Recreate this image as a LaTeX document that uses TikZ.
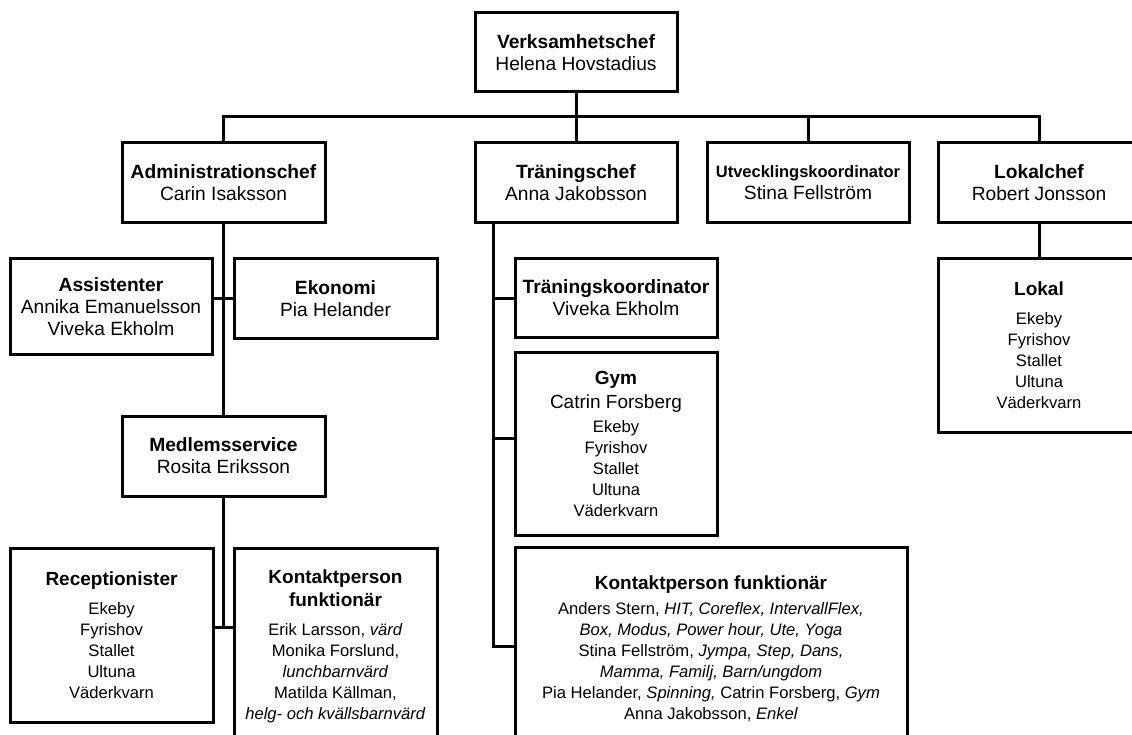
\documentclass[tikz,border=0pt]{standalone}
\usepackage{fontspec}
\setmainfont{Liberation Sans}
\newcommand\ttlb[1]{{\fontsize{19}{22}\selectfont\bfseries #1}}
\newcommand\nmb[1]{{\fontsize{19}{22}\selectfont #1}}
\tikzset{
  box/.style={draw=black, line width=3pt, align=center, inner sep=2pt,
    font=\fontsize{19.2}{22}\selectfont},
  lst/.style={box, font=\fontsize{16.6}{21}\selectfont},
  link/.style={draw=black, line width=3pt},
}
\begin{document}
\begin{tikzpicture}[x=1pt,y=-1pt]
\useasboundingbox (0,0) rectangle (1132,735);
\clip (0,0) rectangle (1132,735);
% level 0
\node[box, minimum width=202pt, minimum height=79pt] (vc) at (576,52.5)
  {\textbf{Verksamhetschef}\\Helena Hovstadius};
% level 1
\node[box, minimum width=203pt, minimum height=80pt] (admin) at (223.5,183)
  {\textbf{Administrationschef}\\Carin Isaksson};
\node[box, minimum width=202pt, minimum height=80pt] (tran) at (576,183)
  {\textbf{Träningschef}\\Anna Jakobsson};
\node[box, minimum width=202pt, minimum height=80pt] (utv) at (808,183)
  {{\fontsize{16.5}{22}\selectfont\bfseries Utvecklingskoordinator}\\Stina Fellström};
\node[box, minimum width=202pt, minimum height=80pt] (lok) at (1039,183)
  {\textbf{Lokalchef}\\Robert Jonsson};
% admin branch
\node[box, minimum width=202pt, minimum height=95pt] (assist) at (111,306.5)
  {\textbf{Assistenter}\\Annika Emanuelsson\\Viveka Ekholm};
\node[box, minimum width=203pt, minimum height=79pt] (eko) at (335.5,298.5)
  {\textbf{Ekonomi}\\Pia Helander};
\node[box, minimum width=203pt, minimum height=80pt] (med) at (223.5,456)
  {\textbf{Medlemsservice}\\Rosita Eriksson};
\node[lst, minimum width=203pt, minimum height=174pt] (rec) at (111.5,635)
  {\ttlb{Receptionister}\\[8pt]Ekeby\\Fyrishov\\Stallet\\Ultuna\\Väderkvarn};
\node[lst, minimum width=203pt, minimum height=197pt] (kp1) at (335.5,646.5)
  {\ttlb{Kontaktperson}\\[2pt]\ttlb{funktionär}\\[8pt]Erik Larsson, \textit{värd}\\Monika Forslund,\\\textit{lunchbarnvärd}\\Matilda Källman,\\\textit{helg- och kvällsbarnvärd}};
% training branch
\node[box, minimum width=202pt, minimum height=78pt] (tk) at (616,298)
  {\textbf{Träningskoordinator}\\Viveka Ekholm};
\node[lst, minimum width=202pt, minimum height=183pt] (gym) at (616,443.5)
  {\ttlb{Gym}\\[3pt]\nmb{Catrin Forsberg}\\[3pt]Ekeby\\Fyrishov\\Stallet\\Ultuna\\Väderkvarn};
\node[lst, minimum width=392pt, minimum height=204pt] (kp2) at (711,649)
  {\ttlb{Kontaktperson funktionär}\\[4pt]Anders Stern, \textit{HIT, Coreflex, IntervallFlex,}\\\textit{Box, Modus, Power hour, Ute, Yoga}\\Stina Fellström, \textit{Jympa, Step, Dans,}\\\textit{Mamma, Familj, Barn/ungdom}\\Pia Helander, \textit{Spinning,} Catrin Forsberg, \textit{Gym}\\Anna Jakobsson, \textit{Enkel}};
% lokal branch
\node[lst, minimum width=202pt, minimum height=173pt] (lokal) at (1039,345.5)
  {\ttlb{Lokal}\\[8pt]Ekeby\\Fyrishov\\Stallet\\Ultuna\\Väderkvarn};
% connectors
\coordinate (bus) at (0,117);
\coordinate (j1) at (223.5,627);
\coordinate (t0) at (493,223);
\coordinate (tg) at (493,438);
\coordinate (t3) at (493,646);
\draw[link] (vc.south) -- (tran.north);
\draw[link] (admin.north) -- (admin.north |- bus) -- (lok.north |- bus) -- (lok.north);
\draw[link] (utv.north |- bus) -- (utv.north);
\draw[link] (admin.south) -- (med.north);
\draw[link] (assist.east |- eko.west) -- (eko.west);
\draw[link] (med.south) -- (j1);
\draw[link] (rec.east |- j1) -- (kp1.west |- j1);
\draw[link] (t0) -- (t3) -- (kp2.west |- t3);
\draw[link] (t0 |- tk.west) -- (tk.west);
\draw[link] (tg) -- (gym.west |- tg);
\draw[link] (lok.south) -- (lokal.north);
\end{tikzpicture}
\end{document}
